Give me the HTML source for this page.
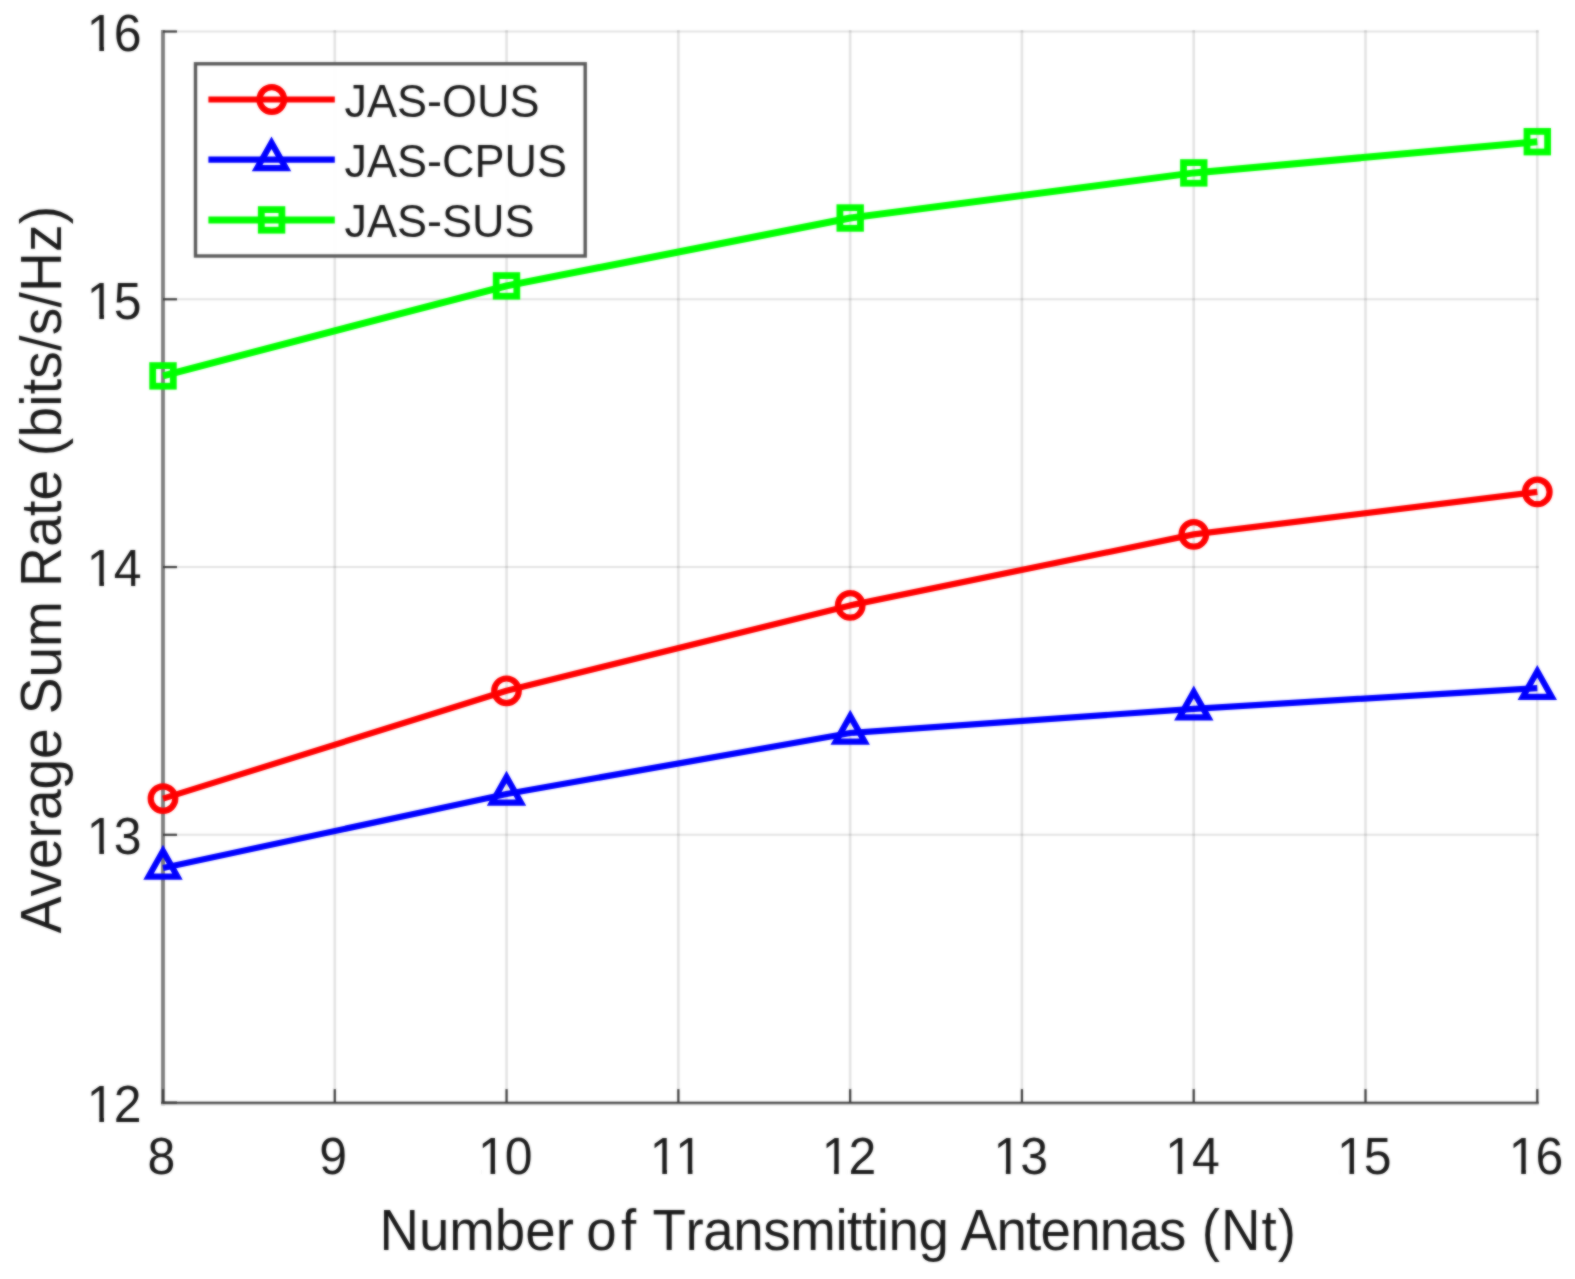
<!DOCTYPE html>
<html lang="en"><head><meta charset="utf-8"><title>Average Sum Rate vs Number of Transmitting Antennas</title>
<style>
html,body{margin:0;padding:0;background:#fff;}
body{width:1575px;height:1279px;overflow:hidden;}
svg{display:block;}
text{font-family:"Liberation Sans",Arial,Helvetica,sans-serif;fill:#1c1c1c;font-kerning:none;}
.tk{font-size:50px;}
.lb{font-size:54.7px;}.lby{font-size:55.1px;}
.lg{font-size:45px;}
</style></head><body>
<svg width="1575" height="1279" viewBox="0 0 1575 1279">
<defs><filter id="soft" x="0" y="0" width="1575" height="1279" filterUnits="userSpaceOnUse" color-interpolation-filters="sRGB"><feGaussianBlur in="SourceGraphic" stdDeviation="0.8" result="b"/><feComposite in="b" in2="SourceGraphic" operator="arithmetic" k1="0" k2="0.65" k3="0.35" k4="0"/></filter></defs>
<g filter="url(#soft)">
<rect x="-10" y="-10" width="1595" height="1299" fill="#ffffff"/>
<g stroke="#000000" stroke-opacity="0.11" stroke-width="2.6" fill="none">
<line x1="163.00" y1="30.00" x2="163.00" y2="1102.60"/>
<line x1="334.79" y1="30.00" x2="334.79" y2="1102.60"/>
<line x1="506.57" y1="30.00" x2="506.57" y2="1102.60"/>
<line x1="678.36" y1="30.00" x2="678.36" y2="1102.60"/>
<line x1="850.15" y1="30.00" x2="850.15" y2="1102.60"/>
<line x1="1021.94" y1="30.00" x2="1021.94" y2="1102.60"/>
<line x1="1193.72" y1="30.00" x2="1193.72" y2="1102.60"/>
<line x1="1365.51" y1="30.00" x2="1365.51" y2="1102.60"/>
<line x1="1537.30" y1="30.00" x2="1537.30" y2="1102.60"/>
<line x1="163.00" y1="31.50" x2="1538.80" y2="31.50" stroke-width="2.1"/>
<line x1="163.00" y1="299.27" x2="1538.80" y2="299.27" stroke-width="2.1"/>
<line x1="163.00" y1="567.05" x2="1538.80" y2="567.05" stroke-width="2.1"/>
<line x1="163.00" y1="834.82" x2="1538.80" y2="834.82" stroke-width="2.1"/>
<line x1="163.00" y1="1102.60" x2="1538.80" y2="1102.60" stroke-width="2.1"/>
</g>
<line x1="163.00" y1="29.90" x2="163.00" y2="1105.20" stroke="#7d7d7d" stroke-width="3.8"/>
<line x1="161.10" y1="1104.55" x2="1538.80" y2="1104.55" stroke="#c8c8c8" stroke-width="1.5"/>
<line x1="161.10" y1="1102.85" x2="1538.80" y2="1102.85" stroke="#404040" stroke-width="2.0"/>
<g stroke="#3c3c3c" stroke-width="2.2">
<line x1="163.00" y1="1089.10" x2="163.00" y2="1102.60"/>
<line x1="334.79" y1="1089.10" x2="334.79" y2="1102.60"/>
<line x1="506.57" y1="1089.10" x2="506.57" y2="1102.60"/>
<line x1="678.36" y1="1089.10" x2="678.36" y2="1102.60"/>
<line x1="850.15" y1="1089.10" x2="850.15" y2="1102.60"/>
<line x1="1021.94" y1="1089.10" x2="1021.94" y2="1102.60"/>
<line x1="1193.72" y1="1089.10" x2="1193.72" y2="1102.60"/>
<line x1="1365.51" y1="1089.10" x2="1365.51" y2="1102.60"/>
<line x1="1537.30" y1="1089.10" x2="1537.30" y2="1102.60"/>
<line x1="163.00" y1="31.50" x2="177.00" y2="31.50"/>
<line x1="163.00" y1="299.27" x2="177.00" y2="299.27"/>
<line x1="163.00" y1="567.05" x2="177.00" y2="567.05"/>
<line x1="163.00" y1="834.82" x2="177.00" y2="834.82"/>
<line x1="163.00" y1="1102.60" x2="177.00" y2="1102.60"/>
</g>
<g class="tk">
<text transform="translate(0,1174.30) scale(1,1.035)" x="147.40">8</text>
<text transform="translate(0,1174.30) scale(1,1.035)" x="319.18">9</text>
<text transform="translate(0,1174.30) scale(1,1.035)" x="478.07 504.88">10</text>
<text transform="translate(0,1174.30) scale(1,1.035)" x="649.85 675.36">11</text>
<text transform="translate(0,1174.30) scale(1,1.035)" x="821.64 848.45">12</text>
<text transform="translate(0,1174.30) scale(1,1.035)" x="993.43 1020.24">13</text>
<text transform="translate(0,1174.30) scale(1,1.035)" x="1165.22 1192.02">14</text>
<text transform="translate(0,1174.30) scale(1,1.035)" x="1337.00 1363.81">15</text>
<text transform="translate(0,1174.30) scale(1,1.035)" x="1508.79 1535.60">16</text>
<text transform="translate(0,50.80) scale(1,1.035)" x="86.88 113.69">16</text>
<text transform="translate(0,318.57) scale(1,1.035)" x="86.88 113.69">15</text>
<text transform="translate(0,586.35) scale(1,1.035)" x="86.88 113.69">14</text>
<text transform="translate(0,854.12) scale(1,1.035)" x="86.88 113.69">13</text>
<text transform="translate(0,1121.90) scale(1,1.035)" x="86.88 113.69">12</text>
</g>
<rect x="481.22" y="1169.90" width="9.3" height="5.2" fill="#ffffff"/>
<rect x="495.17" y="1169.90" width="9.0" height="5.2" fill="#ffffff"/>
<rect x="653.00" y="1169.90" width="9.3" height="5.2" fill="#ffffff"/>
<rect x="666.95" y="1169.90" width="9.0" height="5.2" fill="#ffffff"/>
<rect x="678.51" y="1169.90" width="9.3" height="5.2" fill="#ffffff"/>
<rect x="692.46" y="1169.90" width="9.0" height="5.2" fill="#ffffff"/>
<rect x="824.79" y="1169.90" width="9.3" height="5.2" fill="#ffffff"/>
<rect x="838.74" y="1169.90" width="9.0" height="5.2" fill="#ffffff"/>
<rect x="996.58" y="1169.90" width="9.3" height="5.2" fill="#ffffff"/>
<rect x="1010.53" y="1169.90" width="9.0" height="5.2" fill="#ffffff"/>
<rect x="1168.37" y="1169.90" width="9.3" height="5.2" fill="#ffffff"/>
<rect x="1182.32" y="1169.90" width="9.0" height="5.2" fill="#ffffff"/>
<rect x="1340.15" y="1169.90" width="9.3" height="5.2" fill="#ffffff"/>
<rect x="1354.10" y="1169.90" width="9.0" height="5.2" fill="#ffffff"/>
<rect x="1511.94" y="1169.90" width="9.3" height="5.2" fill="#ffffff"/>
<rect x="1525.89" y="1169.90" width="9.0" height="5.2" fill="#ffffff"/>
<rect x="90.03" y="46.40" width="9.3" height="5.2" fill="#ffffff"/>
<rect x="103.98" y="46.40" width="9.0" height="5.2" fill="#ffffff"/>
<rect x="90.03" y="314.18" width="9.3" height="5.2" fill="#ffffff"/>
<rect x="103.98" y="314.18" width="9.0" height="5.2" fill="#ffffff"/>
<rect x="90.03" y="581.95" width="9.3" height="5.2" fill="#ffffff"/>
<rect x="103.98" y="581.95" width="9.0" height="5.2" fill="#ffffff"/>
<rect x="90.03" y="849.72" width="9.3" height="5.2" fill="#ffffff"/>
<rect x="103.98" y="849.72" width="9.0" height="5.2" fill="#ffffff"/>
<rect x="90.03" y="1117.50" width="9.3" height="5.2" fill="#ffffff"/>
<rect x="103.98" y="1117.50" width="9.0" height="5.2" fill="#ffffff"/>
<text class="lb" transform="translate(0,1249.6) scale(1,1.035)"><tspan x="379.39" letter-spacing="0.001">Number </tspan><tspan x="586.20" letter-spacing="4.422">of </tspan><tspan x="652.53" letter-spacing="-0.416">Transmitting </tspan><tspan x="960.74" letter-spacing="-0.766">Antennas </tspan><tspan x="1201.83" letter-spacing="1.034">(Nt)</tspan></text>
<text class="lby" transform="translate(60.6,1000) rotate(-90) scale(1,1.035)"><tspan x="66.81" letter-spacing="-0.047">Average </tspan><tspan x="285.75" letter-spacing="-0.076">Sum </tspan><tspan x="413.12" letter-spacing="0.241">Rate </tspan><tspan x="543.84" letter-spacing="0.245">(bits/s/Hz)</tspan></text>
<polyline points="163.00,375.90 506.50,285.90 850.20,218.00 1193.80,172.90 1537.30,141.70" fill="none" stroke="#00ff00" stroke-width="7.0" stroke-linejoin="round"/>
<rect x="152.70" y="365.60" width="20.6" height="20.6" fill="none" stroke="#00ff00" stroke-width="6.8"/>
<rect x="496.20" y="275.60" width="20.6" height="20.6" fill="none" stroke="#00ff00" stroke-width="6.8"/>
<rect x="839.90" y="207.70" width="20.6" height="20.6" fill="none" stroke="#00ff00" stroke-width="6.8"/>
<rect x="1183.50" y="162.60" width="20.6" height="20.6" fill="none" stroke="#00ff00" stroke-width="6.8"/>
<rect x="1527.00" y="131.40" width="20.6" height="20.6" fill="none" stroke="#00ff00" stroke-width="6.8"/>
<polyline points="163.00,798.60 506.50,690.80 850.20,605.40 1193.80,534.40 1537.30,491.90" fill="none" stroke="#ff0000" stroke-width="6.2" stroke-linejoin="round"/>
<circle cx="163.00" cy="798.60" r="12.3" fill="none" stroke="#ff0000" stroke-width="6.2"/>
<circle cx="506.50" cy="690.80" r="12.3" fill="none" stroke="#ff0000" stroke-width="6.2"/>
<circle cx="850.20" cy="605.40" r="12.3" fill="none" stroke="#ff0000" stroke-width="6.2"/>
<circle cx="1193.80" cy="534.40" r="12.3" fill="none" stroke="#ff0000" stroke-width="6.2"/>
<circle cx="1537.30" cy="491.90" r="12.3" fill="none" stroke="#ff0000" stroke-width="6.2"/>
<polyline points="163.00,868.00 506.50,794.00 850.20,733.00 1193.80,708.80 1537.30,688.20" fill="none" stroke="#0000ff" stroke-width="6.2" stroke-linejoin="round"/>
<polygon points="163.00,851.10 177.40,876.60 148.60,876.60" fill="none" stroke="#0000ff" stroke-width="6.2" stroke-linejoin="miter" stroke-miterlimit="10"/>
<polygon points="506.50,777.10 520.90,802.60 492.10,802.60" fill="none" stroke="#0000ff" stroke-width="6.2" stroke-linejoin="miter" stroke-miterlimit="10"/>
<polygon points="850.20,716.10 864.60,741.60 835.80,741.60" fill="none" stroke="#0000ff" stroke-width="6.2" stroke-linejoin="miter" stroke-miterlimit="10"/>
<polygon points="1193.80,691.90 1208.20,717.40 1179.40,717.40" fill="none" stroke="#0000ff" stroke-width="6.2" stroke-linejoin="miter" stroke-miterlimit="10"/>
<polygon points="1537.30,671.30 1551.70,696.80 1522.90,696.80" fill="none" stroke="#0000ff" stroke-width="6.2" stroke-linejoin="miter" stroke-miterlimit="10"/>
<rect x="195.5" y="63.8" width="389.7" height="192.2" fill="#ffffff" fill-opacity="0.92" stroke="#5a5a5a" stroke-width="3.4"/>
<line x1="208.4" y1="99.50" x2="334.8" y2="99.50" stroke="#ff0000" stroke-width="6.2"/>
<line x1="208.4" y1="159.60" x2="334.8" y2="159.60" stroke="#0000ff" stroke-width="6.2"/>
<line x1="208.4" y1="219.90" x2="334.8" y2="219.90" stroke="#00ff00" stroke-width="7.0"/>
<circle cx="271.80" cy="99.50" r="12.3" fill="none" stroke="#ff0000" stroke-width="6.2"/>
<polygon points="271.50,142.70 285.90,168.20 257.10,168.20" fill="none" stroke="#0000ff" stroke-width="6.2" stroke-linejoin="miter" stroke-miterlimit="10"/>
<rect x="261.30" y="209.60" width="20.6" height="20.6" fill="none" stroke="#00ff00" stroke-width="6.8"/>
<g class="lg">
<text transform="translate(344.6,117.4) scale(1,1.035)">JAS-OUS</text>
<text transform="translate(344.6,177.3) scale(1,1.035)">JAS-CPUS</text>
<text transform="translate(344.6,236.9) scale(1,1.035)">JAS-SUS</text>
</g>
</g>
</svg>
</body></html>
